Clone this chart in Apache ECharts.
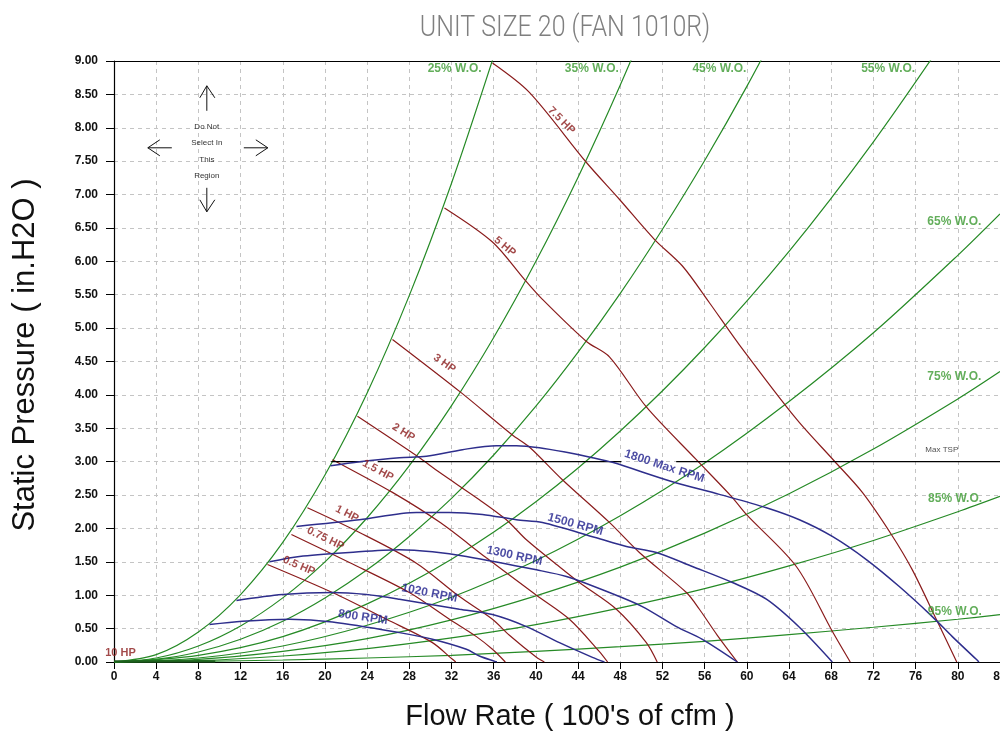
<!DOCTYPE html>
<html><head><meta charset="utf-8">
<script src="https://cdn.jsdelivr.net/npm/echarts@6/dist/echarts.min.js"></script>
<style>html,body{margin:0;padding:0;background:#fff}#c{width:1000px;height:734px}</style>
</head><body><div id="c"></div>
<script>
const chartTitle = 'UNIT SIZE 20 (FAN 1010R)';
const xName = "Flow Rate ( 100's of cfm )";
const yName = 'Static Pressure ( in.H2O )';
const xMin = 0, xMax = 84, xStep = 4;
const yMin = 0, yMax = 9, yStep = 0.5;

// system curves (% wide open)
const woNames = ['25% W.O.','35% W.O.','45% W.O.','55% W.O.','65% W.O.','75% W.O.','85% W.O.','95% W.O.'];
const wo25 = [[0,0],[4,0.11],[8,0.45],[12,1.01],[16,1.79],[20,2.80],[24,4.03],[28,5.49],[32,7.17],[36,9.07]];
const wo35 = [[0,0],[4,0.06],[8,0.24],[12,0.54],[16,0.96],[20,1.50],[24,2.16],[28,2.94],[32,3.84],[36,4.86],[40,6.00],[44,7.26],[48,8.64],[52,10.14]];
const wo45 = [[0,0],[4,0.04],[8,0.15],[12,0.34],[16,0.61],[20,0.96],[24,1.38],[28,1.88],[32,2.45],[36,3.10],[40,3.83],[44,4.64],[48,5.52],[52,6.48],[56,7.51],[60,8.62],[64,9.81]];
const wo55 = [[0,0],[8,0.10],[16,0.38],[24,0.87],[32,1.54],[40,2.40],[48,3.46],[56,4.71],[64,6.15],[72,7.79],[80,9.61]];
const wo65 = [[0,0],[8,0.06],[16,0.24],[24,0.55],[32,0.97],[40,1.52],[48,2.19],[56,2.98],[64,3.90],[72,4.93],[80,6.09],[84,6.71]];
const wo75 = [[0,0],[8,0.04],[16,0.16],[24,0.35],[32,0.63],[40,0.99],[48,1.42],[56,1.93],[64,2.52],[72,3.19],[80,3.94],[84,4.35]];
const wo85 = [[0,0],[8,0.02],[16,0.09],[24,0.20],[32,0.36],[40,0.56],[48,0.81],[56,1.10],[64,1.44],[72,1.82],[80,2.25],[84,2.48]];
const wo95 = [[0,0],[8,0.01],[16,0.03],[24,0.06],[32,0.10],[40,0.16],[48,0.23],[56,0.31],[64,0.41],[72,0.52],[80,0.64],[84,0.71]];
const woBase = [[0,0.01],[9.6,0.01]];
const woLabelAt = [[32.3,8.88],[45.3,8.88],[57.4,8.88],[73.4,8.88],[79.67,6.59],[79.67,4.27],[79.74,2.45],[79.72,0.75]];

// brake horsepower curves
const hpNames = ['7.5 HP','5 HP','3 HP','2 HP','1.5 HP','1 HP','0.75 HP','0.5 HP'];
const hp75 = [[35.88,8.97],[39.38,8.53],[44.79,7.48],[47.91,6.93],[51.23,6.33],[53.89,5.93],[56.45,5.38],[59.29,4.75],[64.69,3.64],[68.29,3.01],[70.95,2.54],[73.70,1.91],[75.69,1.38],[77.96,0.64],[79.9,0]];
const hp5 = [[31.33,6.80],[35.88,6.29],[38.91,5.73],[40.62,5.43],[44.79,4.80],[46.97,4.57],[50.47,3.82],[55.21,3.03],[58.53,2.48],[59.95,2.21],[64.69,1.43],[68.1,0.46],[69.8,0]];
const hp3 = [[26.4,4.83],[32.94,4.03],[37.77,3.40],[39.38,3.22],[42.51,2.73],[46.97,2.09],[49.81,1.64],[54.27,1.04],[55.5,0.79],[57.2,0.40],[59.1,0]];
const hp2 = [[23.08,3.68],[28.77,3.08],[30.85,2.84],[34.64,2.43],[37.2,2.13],[39.1,1.83],[42.2,1.43],[44.12,1.19],[47.63,0.79],[50.47,0.29],[51.5,0]];
const hp15 = [[20.71,3.03],[26.4,2.54],[31.0,2.08],[35.3,1.56],[40.05,1.0],[43.18,0.64],[46.0,0.16],[46.8,0]];
const hp1 = [[18.34,2.31],[23.27,1.94],[28.67,1.48],[32.75,0.98],[35.88,0.64],[37.49,0.40],[40.05,0.07],[40.8,0]];
const hp075 = [[16.82,1.91],[22.32,1.49],[28.0,1.04],[31.8,0.64],[34.36,0.38],[35.88,0.19],[37.1,0]];
const hp05 = [[14.55,1.46],[20.71,1.04],[25.83,0.64],[30.19,0.29],[32.09,0.04],[32.4,0]];
const hpLabelAt = [[42.42,8.11],[37.06,6.22],[31.33,4.47],[27.44,3.44],[25.02,2.87],[22.09,2.22],[20.05,1.85],[17.54,1.44]];
const hpLabelTilt = [-45,-40,-35,-32,-28,-27,-26,-23];
const hpExtraName = '10 HP';
const hpExtraAt = [0.62,0.13];

// fan speed curves
const rpmNames = ['1800 Max RPM','1500 RPM','1300 RPM','1020 RPM','800 RPM'];
const rpm1800 = [[20.52,2.94],[23.27,3.00],[27.06,3.06],[29.62,3.08],[33.03,3.18],[36.26,3.24],[38.15,3.24],[40.33,3.21],[42.89,3.14],[45.36,3.06],[47.25,2.99],[52.94,2.70],[57.39,2.51],[61.85,2.31],[64.98,2.13],[68.1,1.88],[71.36,1.53],[74.45,1.13],[77.58,0.68],[79.48,0.38],[81.75,0.04],[82.0,0]];
const rpm1500 = [[17.3,2.03],[23.27,2.13],[28.67,2.24],[31.8,2.24],[34.93,2.21],[38.15,2.13],[40.62,2.09],[45.73,1.86],[48.58,1.73],[51.42,1.64],[54.83,1.43],[58.63,1.19],[61.85,0.94],[64.98,0.52],[68.1,0]];
const rpm1300 = [[14.74,1.50],[17.58,1.58],[22.32,1.64],[27.06,1.68],[30.19,1.65],[33.41,1.58],[40.05,1.38],[42.89,1.28],[46.97,1.04],[50.09,0.83],[53.32,0.53],[55.78,0.34],[59.1,0]];
const rpm1020 = [[11.61,0.92],[15.97,1.01],[20.71,1.04],[23.93,1.01],[27.06,0.94],[32.75,0.79],[35.88,0.71],[39.1,0.53],[42.23,0.29],[45.36,0.07],[46.5,0]];
const rpm800 = [[9.05,0.56],[12.18,0.61],[16.64,0.64],[20.71,0.60],[27.06,0.44],[30.19,0.34],[33.41,0.19],[34.64,0.09],[36.3,0]];
const rpmLabelAt = [[52.18,2.93],[43.74,2.06],[37.96,1.59],[29.9,1.03],[23.6,0.67]];
const rpmLabelTilt = [-18,-15,-12,-11,-8];

// max total static pressure
const maxTsp = 3.0;
const maxTspName = 'Max TSP';
const maxTspSpans = [[20.6,23.6],[25.0,48.1],[53.3,84]];
const maxTspLabelAt = [78.48,3.18];

const noteLines = ['Do Not','Select In','This','Region'];
const noteAnchor = [8.8,7.7];

const FONT = '"Liberation Sans", Arial, sans-serif';
const GREEN = '#268a26', GREEN_T = '#3c9a32';
const RED = '#8a1c1c', RED_T = '#8b1c1c';
const BLUE = '#2e2e8c', BLUE_T = '#1f1f8c';

const woCurves = [wo25,wo35,wo45,wo55,wo65,wo75,wo85,wo95];
const hpCurves = [hp75,hp5,hp3,hp2,hp15,hp1,hp075,hp05];
const rpmCurves = [rpm1800,rpm1500,rpm1300,rpm1020,rpm800];

const series = [];
function lineSeries(data, color, width, z){
  return {type:'line', data, smooth:0.3, symbol:'none', silent:true, animation:false, clip:true,
    lineStyle:{color, width}, z};
}
woCurves.forEach(c => series.push(lineSeries(c, GREEN, 1.2, 2)));
series.push(lineSeries(woBase, '#1d5e1d', 2.2, 2));
hpCurves.forEach(c => series.push(lineSeries(c, RED, 1.2, 3)));
maxTspSpans.forEach(s => series.push({type:'line', data:[[s[0],maxTsp],[s[1],maxTsp]], symbol:'none', silent:true, animation:false, lineStyle:{color:'#000', width:1.3}, z:4}));
rpmCurves.forEach(c => series.push(lineSeries(c, BLUE, 1.5, 5)));

function labelSeries(items, color, size, weight){
  return {type:'scatter', symbolSize:1, itemStyle:{color:'rgba(0,0,0,0)'}, silent:true, animation:false, z:10,
    data: items.map(it => ({value: it.at, name: it.text,
      label:{show:true, position:'inside', formatter: it.text, rotate: it.rot || 0,
        color, fontSize: size, fontWeight: weight, fontFamily: FONT}}))};
}
series.push(labelSeries(woNames.map((t,i)=>({text:t, at:woLabelAt[i]})), GREEN_T, 12, 'bold'));
series.push(labelSeries(hpNames.map((t,i)=>({text:t, at:hpLabelAt[i], rot:hpLabelTilt[i]})).concat([{text:hpExtraName, at:hpExtraAt}]), RED_T, 11, 'bold'));
series.push(labelSeries(rpmNames.map((t,i)=>({text:t, at:rpmLabelAt[i], rot:rpmLabelTilt[i]})), BLUE_T, 12, 'bold'));
series.push(labelSeries([{text:maxTspName, at:maxTspLabelAt}], '#222', 8, 'normal'));

const chart = echarts.init(document.getElementById('c'), null, {renderer:'canvas'});
const option = {
  animation:false,
  backgroundColor:'#fff',
  grid:{left:114, right:0, top:61, bottom:72, containLabel:false, outerBoundsMode:'none'},
  xAxis:[{
    type:'value', min:xMin, max:xMax, interval:xStep,
    axisLine:{show:true, onZero:false, lineStyle:{color:'#000', width:1.2}},
    axisTick:{show:true, inside:false, length:7, lineStyle:{color:'#000'}},
    axisLabel:{color:'#111', fontSize:12, fontWeight:'bold', fontFamily:FONT, margin:9},
    splitLine:{show:true, lineStyle:{color:'#c4c4c4', type:[4,4], width:1}}
  },{
    type:'value', position:'top', min:xMin, max:xMax, interval:xStep,
    axisLine:{show:true, onZero:false, lineStyle:{color:'#000', width:1.2}},
    axisTick:{show:false}, axisLabel:{show:false}, splitLine:{show:false}
  }],
  yAxis:{
    type:'value', min:yMin, max:yMax, interval:yStep,
    axisLine:{show:true, onZero:false, lineStyle:{color:'#000', width:1.2}},
    axisTick:{show:true, inside:false, length:8, lineStyle:{color:'#000'}},
    axisLabel:{color:'#111', fontSize:12, fontWeight:'bold', fontFamily:FONT, margin:16,
      formatter: v => v.toFixed(2)},
    splitLine:{show:true, lineStyle:{color:'#c4c4c4', type:[4,4], width:1}}
  },
  series
};
chart.setOption(option);

// text and annotation
const g = [];
g.push({type:'text', x:565, y:29, scaleX:0.86, originX:0, originY:0,
  style:{text:chartTitle, fill:'#7f7f7f', fontSize:29, fontWeight:300, fontFamily:'Roboto, "Open Sans", sans-serif', align:'center', verticalAlign:'middle'}});
g.push({type:'text', x:570, y:717,
  style:{text:xName, fill:'#111', fontSize:29, fontFamily:FONT, align:'center', verticalAlign:'middle'}});
g.push({type:'text', x:25, y:355, rotation:Math.PI/2,
  style:{text:yName, fill:'#111', fontSize:31, fontFamily:FONT, align:'center', verticalAlign:'middle'}});

const a = chart.convertToPixel({gridIndex:0}, noteAnchor);
const ax = a[0], ay = a[1];
const arrows = [
  [[0,-37],[0,-62]], [[-7,-50],[0,-62],[8,-50]],
  [[0,40],[0,64]], [[-7,52],[0,64],[8,52]],
  [[-35,0],[-59,0]], [[-47,-8],[-59,0],[-47,8]],
  [[37,0],[61,0]], [[49,-8],[61,0],[49,8]]
];
arrows.forEach(p => g.push({type:'polyline', shape:{points:p.map(q=>[ax+q[0], ay+q[1]])}, style:{stroke:'#111', lineWidth:1, fill:null}, z:20}));
noteLines.forEach((t,i) => g.push({type:'text', x:ax, y:ay-21+i*16.3,
  style:{text:t, fill:'#333', fontSize:8, fontFamily:FONT, align:'center', verticalAlign:'middle'}, z:20}));
chart.setOption({graphic:g});
</script></body></html>
